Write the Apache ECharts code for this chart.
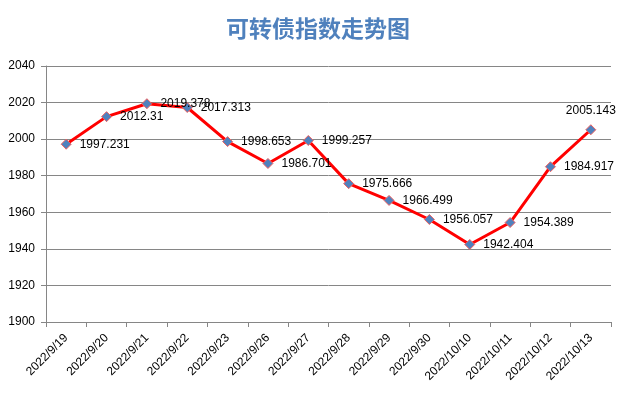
<!DOCTYPE html>
<html><head><meta charset="utf-8">
<script src="https://cdn.jsdelivr.net/npm/echarts@6/dist/echarts.min.js"></script>
<style>html,body{margin:0;padding:0;background:#fff}#c{width:636px;height:395px}</style>
</head><body><div id="c"></div>
<script>
const titleText = '可转债指数走势图';
const categories = ['2022/9/19','2022/9/20','2022/9/21','2022/9/22','2022/9/23','2022/9/26','2022/9/27','2022/9/28','2022/9/29','2022/9/30','2022/10/10','2022/10/11','2022/10/12','2022/10/13'];
const values = [1997.231,2012.31,2019.378,2017.313,1998.653,1986.701,1999.257,1975.666,1966.499,1956.057,1942.404,1954.389,1984.917,2005.143];
const yMin = 1900, yMax = 2040, yStep = 20;

const chart = echarts.init(document.getElementById('c'));
const font = 'Liberation Sans';
chart.setOption({
  backgroundColor: '#fff',
  animation: false,
  title: { text: titleText, left: 'center', top: 12,
    textStyle: { fontFamily: 'Noto Sans CJK SC', fontSize: 23, fontWeight: 'bold', color: '#4F81BD' } },
  grid: { left: 46, right: 25, top: 66, bottom: 73 },
  xAxis: {
    type: 'category', data: categories, boundaryGap: true,
    axisLine: { lineStyle: { color: '#868686' } },
    axisTick: { show: true, alignWithLabel: false, length: 5, lineStyle: { color: '#868686' } },
    axisLabel: { rotate: 45, fontFamily: font, fontSize: 12, color: '#000', interval: 0, margin: 14 }
  },
  yAxis: {
    type: 'value', min: yMin, max: yMax, interval: yStep,
    axisLine: { show: true, lineStyle: { color: '#868686' } },
    axisTick: { show: true, length: 5, lineStyle: { color: '#868686' } },
    splitLine: { lineStyle: { color: '#868686' } },
    axisLabel: { fontFamily: font, fontSize: 12, color: '#000', margin: 11, formatter: v => String(v) }
  },
  series: [{
    type: 'line', data: values.map((v, i) => ({
      value: v,
      label: i === values.length - 1 ? { position: 'top', distance: 8 } : undefined
    })),
    lineStyle: { color: '#FF0000', width: 3 },
    symbol: 'diamond', symbolSize: 10,
    itemStyle: { color: '#4F81BD', borderColor: '#F06060', borderWidth: 1 },
    label: { show: true, position: 'right', distance: 8, fontFamily: font, fontSize: 12, color: '#000',
      formatter: p => String(p.value) }
  }]
});
</script></body></html>
